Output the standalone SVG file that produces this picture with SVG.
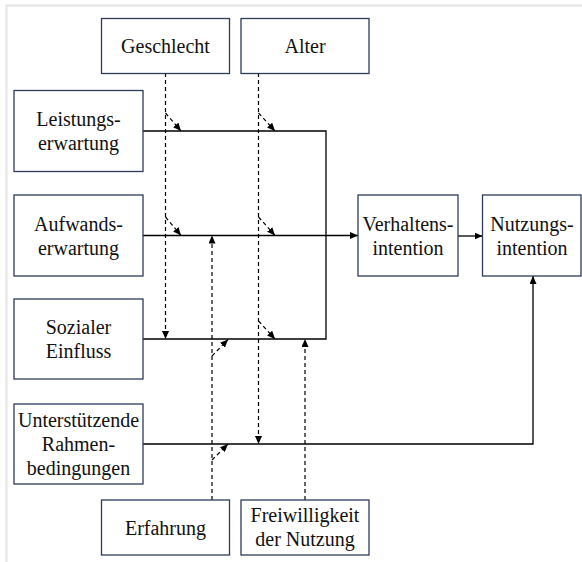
<svg xmlns="http://www.w3.org/2000/svg" width="582" height="562" viewBox="0 0 582 562">
<style>
.box{fill:#fff;stroke:#2f3b5a;stroke-width:1.3}
.t{font-family:"Liberation Serif","Times New Roman",serif;font-size:20px;fill:#111;text-anchor:middle}
.s{fill:none;stroke:#000;stroke-width:1.3}
.d{fill:none;stroke:#000;stroke-width:1.2;stroke-dasharray:4 3}
.frame{fill:none;stroke:#e4e4e4;stroke-width:2}
</style>
<defs>
<marker id="a" markerUnits="userSpaceOnUse" markerWidth="8" markerHeight="7" refX="8" refY="3.5" orient="auto">
<path d="M0,0 L8,3.5 L0,7 z" fill="#000"/>
</marker>
</defs>
<path class="frame" d="M6.5,562 V5.5 H582"/>
<g id="connectors">
<path class="s" d="M143,131 H326 V339 H143"/>
<path class="s" d="M143,235.5 H358" marker-end="url(#a)"/>
<path class="s" d="M458,236 H482.5" marker-end="url(#a)"/>
<path class="s" d="M143,444 H533 V276" marker-end="url(#a)"/>
<path class="d" d="M165.5,73 V339" marker-end="url(#a)"/>
<path class="d" d="M258.5,73 V444" marker-end="url(#a)"/>
<path class="d" d="M212,500 V235.5" marker-end="url(#a)"/>
<path class="d" d="M305,500 V339" marker-end="url(#a)"/>
<path class="d" d="M165.5,113 L181,131" marker-end="url(#a)"/>
<path class="d" d="M258.5,113 L275,131" marker-end="url(#a)"/>
<path class="d" d="M165.5,217 L181,235.5" marker-end="url(#a)"/>
<path class="d" d="M258.5,217 L275,235.5" marker-end="url(#a)"/>
<path class="d" d="M258.5,321 L275,339" marker-end="url(#a)"/>
<path class="d" d="M212,356 L228,339.5" marker-end="url(#a)"/>
<path class="d" d="M212,460 L228,444" marker-end="url(#a)"/>
</g>
<g id="geschlecht"><rect class="box" x="101.5" y="18.5" width="128" height="55"/><text class="t" x="165.5" y="53">Geschlecht</text></g>
<g id="alter"><rect class="box" x="241" y="18.5" width="128" height="55"/><text class="t" x="305" y="53">Alter</text></g>
<g id="leistung"><rect class="box" x="14" y="90.5" width="129" height="81"/><text class="t" x="78.5" y="126">Leistungs-</text><text class="t" x="78.5" y="150">erwartung</text></g>
<g id="aufwand"><rect class="box" x="14" y="195" width="129" height="81"/><text class="t" x="78.5" y="231">Aufwands-</text><text class="t" x="78.5" y="255">erwartung</text></g>
<g id="sozial"><rect class="box" x="14" y="299" width="129" height="80"/><text class="t" x="78.5" y="334">Sozialer</text><text class="t" x="78.5" y="358">Einfluss</text></g>
<g id="unterst"><rect class="box" x="14" y="404" width="129" height="80"/><text class="t" x="78.5" y="427">Unterstützende</text><text class="t" x="78.5" y="451">Rahmen-</text><text class="t" x="78.5" y="475">bedingungen</text></g>
<g id="verhalten"><rect class="box" x="358" y="195" width="100" height="81"/><text class="t" x="408" y="231">Verhaltens-</text><text class="t" x="408" y="255">intention</text></g>
<g id="nutzung"><rect class="box" x="482.5" y="195" width="98.5" height="81"/><text class="t" x="532" y="231">Nutzungs-</text><text class="t" x="532" y="255">intention</text></g>
<g id="erfahrung"><rect class="box" x="101.5" y="500" width="128" height="55"/><text class="t" x="165.5" y="535">Erfahrung</text></g>
<g id="freiwillig"><rect class="box" x="241" y="500" width="128" height="55"/><text class="t" x="305" y="522">Freiwilligkeit</text><text class="t" x="305" y="546">der Nutzung</text></g>
</svg>
